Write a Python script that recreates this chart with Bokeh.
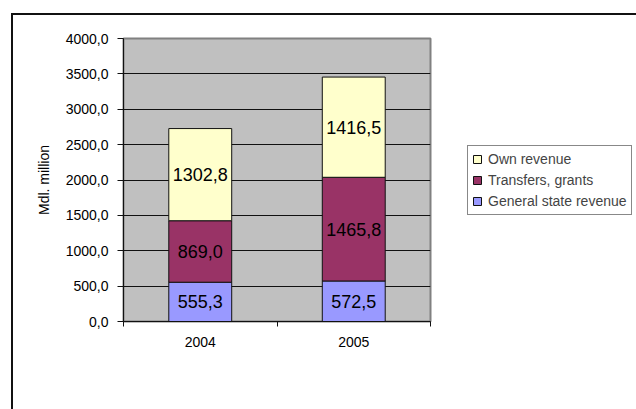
from bokeh.plotting import figure
from bokeh.models import ColumnDataSource, FixedTicker, Range1d, Legend, LegendItem
from bokeh.embed import file_html
from bokeh.resources import INLINE
from bokeh.core.properties import value

# ---- data ----
years = ["2004", "2005"]
general_state = [555.3, 572.5]
transfers = [869.0, 1465.8]
own_revenue = [1302.8, 1416.5]
series_names = ["General state revenue", "Transfers, grants", "Own revenue"]
series_colors = ["#9999FF", "#993366", "#FFFFCC"]
y_ticks = [0, 500, 1000, 1500, 2000, 2500, 3000, 3500, 4000]
y_title = "Mdl. million"


def fmt(v):
    return f"{v:.1f}".replace(".", ",")


FONT = "Liberation Sans"

xs = [i + 0.5 for i in range(len(years))]
cols = ["gen", "tr", "own"]
src = ColumnDataSource(dict(x=xs, gen=general_state, tr=transfers, own=own_revenue))

p = figure(
    frame_width=307, frame_height=283,
    x_range=Range1d(0, len(years)), y_range=Range1d(0, y_ticks[-1]),
    output_backend="svg", toolbar_location=None,
    min_border_left=110, min_border_right=0, min_border_top=23, min_border_bottom=88,
    background_fill_color="#C0C0C0", border_fill_color="white",
    outline_line_color="#808080", outline_line_width=2,
    styles={"margin-left": "11px", "margin-top": "13px",
            "border-left": "2px solid #111", "border-top": "2px solid #111"},
)

rends = p.vbar_stack(cols, x="x", width=0.41, source=src,
                     fill_color=series_colors, line_color="#111111", line_width=1)

# value labels centred in each segment
lx, ly, lt = [], [], []
series = [general_state, transfers, own_revenue]
for i in range(len(years)):
    base = 0.0
    for s in series:
        v = s[i]
        lx.append(xs[i])
        ly.append(base + v / 2)
        lt.append(fmt(v))
        base += v
lsrc = ColumnDataSource(dict(x=lx, y=ly, t=lt))
p.text(x="x", y="y", text="t", source=lsrc, text_align="center", text_baseline="middle",
       text_font=value(FONT), text_font_size="18px", text_color="#000000")

# grid
p.xgrid.visible = False
p.ygrid.grid_line_color = "#111111"
p.ygrid.grid_line_width = 1

# y axis
p.yaxis.ticker = FixedTicker(ticks=y_ticks)
p.yaxis.major_label_overrides = {t: fmt(t) for t in y_ticks}
p.yaxis.major_tick_out = 6
p.yaxis.major_tick_in = 0
p.yaxis.minor_tick_line_color = None
p.yaxis.major_label_standoff = 9
p.yaxis.axis_label = y_title
p.yaxis.axis_label_text_font = FONT
p.yaxis.axis_label_text_font_size = "14px"
p.yaxis.axis_label_text_font_style = "normal"
p.yaxis.axis_label_text_color = "#000000"
p.yaxis.axis_label_standoff = 11

# x axis (labels at centres, ticks at category boundaries)
p.xaxis.ticker = FixedTicker(ticks=xs, minor_ticks=list(range(len(years) + 1)))
p.xaxis.major_label_overrides = {x: y for x, y in zip(xs, years)}
p.xaxis.major_tick_out = 5
p.xaxis.major_tick_in = 0
p.xaxis.minor_tick_line_color = "#111111"
p.xaxis.minor_tick_out = 5
p.xaxis.minor_tick_in = 0
p.xaxis.major_label_standoff = 10

for ax in (p.xaxis[0], p.yaxis[0]):
    ax.axis_line_color = "#111111"
    ax.major_label_text_font = FONT
    ax.major_label_text_font_size = "14px"
    ax.major_label_text_color = "#000000"
p.yaxis.major_tick_line_color = "#111111"
p.xaxis.major_tick_line_color = None

legend = Legend(
    items=[LegendItem(label=series_names[i], renderers=[rends[i]]) for i in reversed(range(len(series_names)))],
    location="center_left",
    label_text_font=FONT, label_text_font_size="14px",
    glyph_width=10, glyph_height=10, label_height=18, label_standoff=6,
    spacing=3, padding=4, margin=37,
    border_line_color="#111111", background_fill_color="white", background_fill_alpha=1.0,
)
p.add_layout(legend, "right")

open("out.html", "w").write(file_html(p, INLINE))
